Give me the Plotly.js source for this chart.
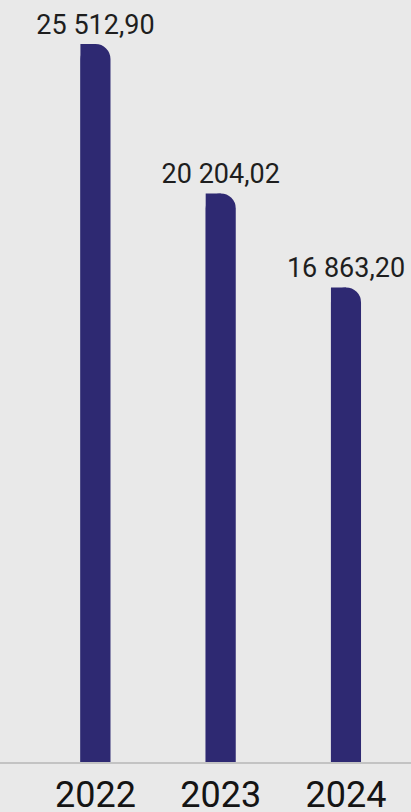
<!DOCTYPE html>
<html>
<head>
<meta charset="utf-8">
<script src="https://cdn.plot.ly/plotly-3.0.1.min.js"></script>
<style>
  html, body { margin: 0; padding: 0; background: #e9e9e9; }
  #chart { width: 411px; height: 812px; }
</style>
</head>
<body>
<div id="chart"></div>
<script>
// Data
const years = ["2022", "2023", "2024"];
const values = [25512.90, 20204.02, 16863.20];

const barColor = "#2e2972";
const barW = 0.24;

const mainBars = {
  type: "bar",
  x: years,
  y: values,
  width: barW,
  marker: { color: barColor, cornerradius: "50%", line: { width: 0 } },
  texttemplate: "%{y:,.2f}",
  textposition: "outside",
  constraintext: "none",
  cliponaxis: false,
  textfont: { family: "Roboto, sans-serif", size: 27, color: "#1e1e1e" },
  hoverinfo: "x+y"
};

// left half without rounding: square top-left corner
const squareHalf = {
  type: "bar",
  x: years,
  y: values,
  width: barW / 2,
  offset: -barW / 2,
  marker: { color: barColor, line: { width: 0 } },
  hoverinfo: "skip"
};

const ymax = values[0] * 762 / 718;

const layout = {
  width: 411,
  height: 812,
  margin: { l: 0, r: 0, t: 0, b: 50 },
  paper_bgcolor: "#e9e9e9",
  plot_bgcolor: "#e9e9e9",
  separators: ", ",
  barmode: "overlay",
  showlegend: false,
  xaxis: {
    type: "category",
    range: [-0.762, 2.519],
    showline: true,
    linecolor: "#c3c3c3",
    linewidth: 1.5,
    showgrid: false,
    zeroline: false,
    ticks: "",
    tickfont: { family: "Roboto, sans-serif", size: 36, color: "#141414" },
    fixedrange: true
  },
  yaxis: {
    visible: false,
    range: [0, ymax],
    showgrid: false,
    zeroline: false,
    fixedrange: true
  }
};

Plotly.newPlot("chart", [squareHalf, mainBars], layout, { displayModeBar: false, staticPlot: true });
</script>
</body>
</html>
